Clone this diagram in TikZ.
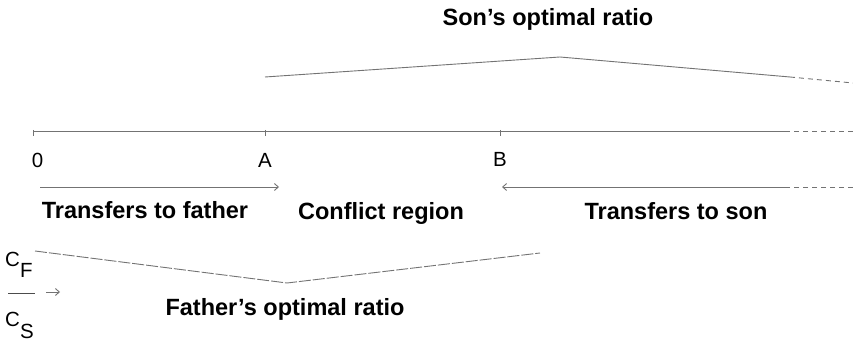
\documentclass[tikz,border=0pt]{standalone}
\usepackage{fontspec}
\setmainfont{Liberation Sans}
\usetikzlibrary{arrows.meta}

\begin{document}
\begin{tikzpicture}[x=1pt, y=-1pt,
    lbl/.style={font=\fontsize{23.5}{26}\selectfont\bfseries, inner sep=0pt, anchor=base},
    pt/.style={font=\fontsize{20.5}{23}\selectfont, inner sep=0pt, anchor=base},
    ln/.style={draw=black!55, line width=0.9pt},
    tail/.style={ln, dash pattern=on 5pt off 4pt},
    brk/.style={ln, dash pattern=on 12pt off 2pt},
    >={Straight Barb[length=4pt,width=7pt]}
  ]
  \useasboundingbox (0,0) rectangle (853,344);

  % Son's optimal ratio
  \node[lbl] (sontxt) at (548,26) {Son's optimal ratio};
  \coordinate (s1) at (265,77);
  \coordinate (s2) at (560,57);
  \coordinate (s3) at (790,77);
  \coordinate (s4) at (853,83);
  \draw[ln] (s1) -- (s2) -- (s3);
  \draw[tail] (s3) -- (s4);

  % Axis
  \coordinate (o) at (33,131);
  \coordinate (a) at (265,131);
  \coordinate (b) at (500,131);
  \coordinate (ax) at (785,131);
  \coordinate (axend) at (853,131);
  \draw[ln] (o) -- (ax);
  \draw[tail] (ax) -- (axend);
  \foreach \t in {o,a,b}
    \draw[ln] ([yshift=1pt]\t) -- ([yshift=-5pt]\t);
  \node[pt] (lo) at (37.5,168) {0};
  \node[pt] (la) at (265,168) {A};
  \node[pt] (lb) at (500,167) {B};

  % Transfers
  \coordinate (f1) at (40,187);
  \coordinate (f2) at (279,187);
  \draw[ln,->] (f1) -- (f2);
  \coordinate (t1) at (853,187);
  \coordinate (t2) at (785,187);
  \coordinate (t3) at (502,187);
  \draw[tail] (t1) -- (t2);
  \draw[ln,->] (t2) -- (t3);
  \node[lbl] (tf) at (145,219) {Transfers to father};
  \node[lbl] (cr) at (381,220) {Conflict region};
  \node[lbl] (ts) at (676,220) {Transfers to son};

  % Father's optimal ratio
  \coordinate (p1) at (35,251);
  \coordinate (p2) at (287,283);
  \coordinate (p3) at (540,253);
  \draw[brk] (p1) -- (p2) -- (p3);
  \node[lbl] (fat) at (285,315) {Father's optimal ratio};

  % cost ratio
  \node[pt, anchor=base west] (cf) at (5,267) {C\raisebox{-11pt}{F}};
  \coordinate (bar1) at (8,293);
  \coordinate (bar2) at (35,293);
  \draw[black!70, line width=0.9pt] (bar1) -- (bar2);
  \coordinate (r1) at (46,292);
  \coordinate (r2) at (60,292);
  \draw[ln,->] (r1) -- (r2);
  \node[pt, anchor=base west] (cs) at (5,326) {C\raisebox{-13pt}{S}};
\end{tikzpicture}
\end{document}
